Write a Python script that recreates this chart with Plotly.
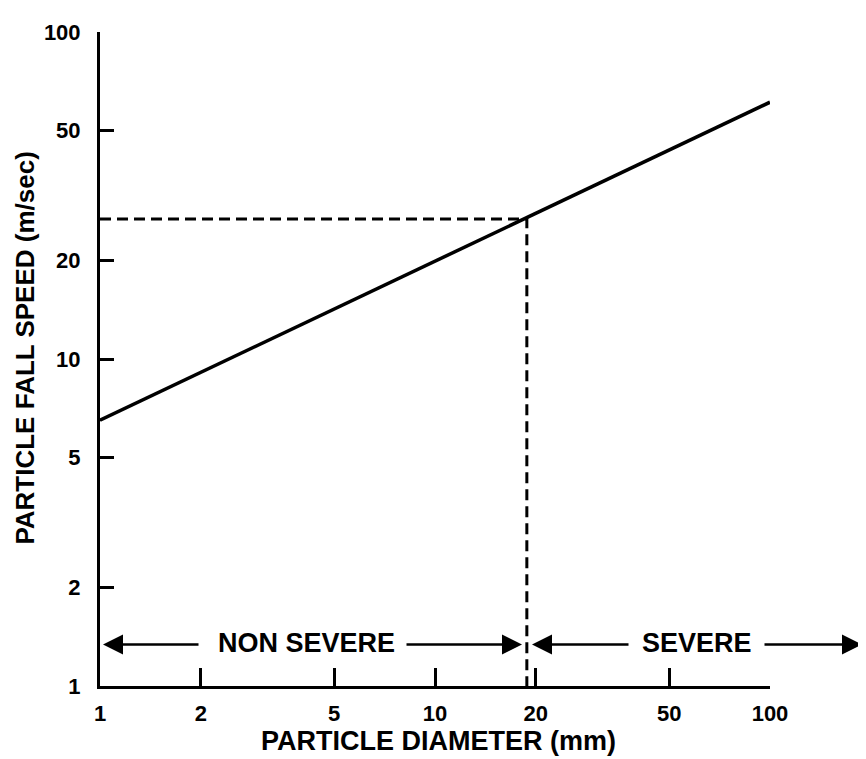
import plotly.graph_objects as go
import math

# ---- data ----
diameter_mm = [1, 100]
fall_speed = [6.5, 61]
threshold_diameter = 18.8
threshold_speed = 26.8
x_ticks = [1, 2, 5, 10, 20, 50, 100]
y_ticks = [1, 2, 5, 10, 20, 50, 100]
x_title = "PARTICLE DIAMETER (mm)"
y_title = "PARTICLE FALL SPEED (m/sec)"
region_labels = ["NON SEVERE", "SEVERE"]

FONT = "Liberation Sans, Arial, Helvetica, sans-serif"

fig = go.Figure()
fig.add_trace(go.Scatter(
    x=diameter_mm, y=fall_speed, mode="lines",
    line=dict(color="black", width=3.5), showlegend=False, hoverinfo="skip"))
fig.add_trace(go.Scatter(
    x=[diameter_mm[0], threshold_diameter, threshold_diameter],
    y=[threshold_speed, threshold_speed, y_ticks[0]],
    mode="lines", line=dict(color="black", width=3, dash="11px,6px"),
    showlegend=False, hoverinfo="skip", cliponaxis=False))

W, H = 866, 759
OFF = 8  # page body margin
# plot area in window pixels: left 100, right 770, top 25, bottom 686
PL, PR, PT, PB = 100, 770, 25, 686
L = PL - OFF
T = PT - OFF
R = W - (PR - OFF)
B = H - (PB - OFF)
pw = PR - PL
ph = PB - PT

def px_x(p):
    return (p - PL) / pw

def px_y(p):
    return (PB - p) / ph

arrow_y = px_y(644)
arrows = [(103, 200), (522, 405), (532, 630), (862, 763)]
annotations = []
for head, tail in arrows:
    annotations.append(dict(
        x=px_x(head), y=arrow_y, xref="paper", yref="paper",
        ax=tail - head, ay=0, axref="pixel", ayref="pixel",
        text="", showarrow=True, arrowhead=2, arrowsize=1.6,
        arrowwidth=2.5, arrowcolor="black", standoff=0, startstandoff=0))

lab_font = dict(family=FONT, size=27, color="black", weight="bold")
annotations.append(dict(x=px_x(306), y=px_y(643), xref="paper", yref="paper",
                        xanchor="center", yanchor="middle",
                        text=region_labels[0], showarrow=False, font=lab_font))
annotations.append(dict(x=px_x(697), y=px_y(643), xref="paper", yref="paper",
                        xanchor="center", yanchor="middle",
                        text=region_labels[1], showarrow=False, font=lab_font))
annotations.append(dict(x=px_x(438), y=px_y(742), xref="paper", yref="paper",
                        xanchor="center", yanchor="middle",
                        text=x_title, showarrow=False, font=lab_font))
annotations.append(dict(x=px_x(25), y=px_y(345), xref="paper", yref="paper",
                        xanchor="center", yanchor="middle",
                        text=y_title, showarrow=False, textangle=-90,
                        font=dict(family=FONT, size=26, color="black", weight="bold")))

tickfont = dict(family=FONT, size=22, color="black", weight="bold")

fig.update_layout(
    width=W, height=H,
    margin=dict(l=L, r=R, t=T, b=B, pad=0),
    paper_bgcolor="white", plot_bgcolor="white",
    annotations=annotations,
    xaxis=dict(type="log", range=[math.log10(x_ticks[0]), math.log10(x_ticks[-1])],
               tickvals=x_ticks, ticktext=[str(v) for v in x_ticks],
               ticks="inside", ticklen=18, tickwidth=2.5, tickcolor="black",
               showline=True, linewidth=3, linecolor="black",
               showgrid=False, zeroline=False, tickfont=tickfont,
               ticklabelstandoff=6),
    yaxis=dict(type="log", range=[math.log10(y_ticks[0]), math.log10(y_ticks[-1])],
               tickvals=y_ticks, ticktext=[str(v) for v in y_ticks],
               ticks="inside", ticklen=14, tickwidth=2.5, tickcolor="black",
               showline=True, linewidth=3, linecolor="black",
               showgrid=False, zeroline=False, tickfont=tickfont,
               ticklabelstandoff=12),
)

fig.write_html("out.html")
